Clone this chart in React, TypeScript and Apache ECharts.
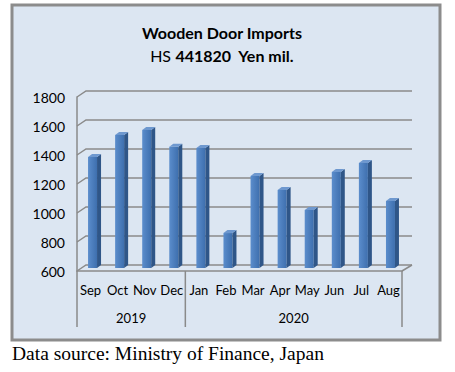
import React, { useEffect, useRef } from "react";
import * as echarts from "echarts";

const months = ["Sep", "Oct", "Nov", "Dec", "Jan", "Feb", "Mar", "Apr", "May", "Jun", "Jul", "Aug"];
const imports = [1365, 1517, 1552, 1437, 1428, 841, 1234, 1138, 1000, 1262, 1324, 1062];
const yTicks = [600, 800, 1000, 1200, 1400, 1600, 1800];
const yearLabels = ["2019", "2020"];
const yearStart = [0, 4];
const yearEnd = [3, 11];
const titleLine1 = "Wooden Door Imports";
const titleLine2a = "HS ";
const titleLine2b = "441820  Yen mil.";
const sourceText = "Data source: Ministry of Finance, Japan";

const GRID_COLOR = "#8a8a8a";
const FONT = "Lato";

export default function App() {
  const ref = useRef<HTMLDivElement>(null);
  useEffect(() => {
    const chart = echarts.init(ref.current!, null, { renderer: "svg" });
    const DX = 9;
    const DY = -6;
    chart.setOption({
      animation: false,
      grid: { left: 77, right: 53, top: 97, bottom: 101 },
      xAxis: {
        type: "category",
        data: months,
        axisLine: { show: true, lineStyle: { color: GRID_COLOR, width: 1.5 } },
        axisTick: { show: false },
        axisLabel: { interval: 0, margin: 12, color: "#000", fontFamily: FONT, fontSize: 13 },
      },
      yAxis: {
        type: "value",
        min: 600,
        max: 1800,
        interval: 200,
        axisLine: { show: true, lineStyle: { color: GRID_COLOR, width: 1.5 } },
        axisTick: { show: false },
        splitLine: { show: false },
        axisLabel: {
          margin: 12,
          color: "#000",
          fontFamily: FONT,
          fontSize: 14,
          formatter: (v: number) => String(v),
        },
      },
      graphic: [
        {
          type: "rect",
          z: -10,
          shape: { x: 12, y: 5, width: 428, height: 335 },
          style: { fill: "#dce6f2", stroke: "#8c8c8c", lineWidth: 3 },
        },
        {
          type: "text",
          x: 222,
          y: 32,
          style: {
            text: titleLine1,
            fontFamily: FONT,
            fontWeight: "bold",
            fontSize: 16,
            fill: "#000",
            align: "center",
            verticalAlign: "middle",
            textAlign: "center",
            textVerticalAlign: "middle",
          },
        },
        {
          type: "text",
          x: 222,
          y: 55,
          style: {
            text: "{n|" + titleLine2a + "}{b|" + titleLine2b + "}",
            rich: {
              n: { fontFamily: FONT, fontSize: 16, fontWeight: "normal", fill: "#000", color: "#000" },
              b: { fontFamily: FONT, fontSize: 16, fontWeight: "bold", fill: "#000", color: "#000" },
            },
            align: "center",
            verticalAlign: "middle",
            textAlign: "center",
            textVerticalAlign: "middle",
          },
        },
        {
          type: "text",
          x: 12,
          y: 353,
          style: {
            text: sourceText,
            fontFamily: "Liberation Serif",
            fontSize: 19.5,
            fill: "#000",
            align: "left",
            verticalAlign: "middle",
            textAlign: "left",
            textVerticalAlign: "middle",
          },
        },
      ],
      series: [
        {
          type: "custom",
          name: "grid",
          clip: false,
          silent: true,
          z: 1,
          data: yTicks.map((t) => [0, t]),
          renderItem: (params: any, api: any) => {
            const cs = params.coordSys;
            const y = api.coord([0, api.value(1)])[1];
            const x0 = cs.x;
            const x1 = cs.x + cs.width;
            const children: any[] = [
              {
                type: "polyline",
                shape: { points: [[x0, y], [x0 + DX, y + DY], [x1 + DX + 1, y + DY]] },
                style: { stroke: GRID_COLOR, lineWidth: 1.5, fill: "none" },
              },
            ];
            if (params.dataIndex === 0) {
              children.push({
                type: "line",
                shape: { x1: x1, y1: y, x2: x1 + DX + 1, y2: y + DY },
                style: { stroke: GRID_COLOR, lineWidth: 1.5 },
              });
            }
            return { type: "group", children };
          },
        },
        {
          type: "custom",
          name: "Imports",
          clip: false,
          z: 3,
          data: imports.map((v, i) => [i, v]),
          renderItem: (params: any, api: any) => {
            const idx = api.value(0);
            const v = api.value(1);
            const top = api.coord([idx, v]);
            const base = api.coord([idx, 600]);
            const w = 9;
            const d = 4;
            const dh = 3;
            const l = top[0] - 2.5;
            const r = l + w;
            const yTop = top[1] - 3;
            const yBase = base[1] - 3;
            return {
              type: "group",
              children: [
                {
                  type: "rect",
                  shape: { x: l, y: yTop, width: w, height: yBase - yTop },
                  style: {
                    fill: new echarts.graphic.LinearGradient(0, 0, 1, 0, [
                      { offset: 0, color: "#5b8dcc" },
                      { offset: 1, color: "#3e6fae" },
                    ]),
                  },
                },
                {
                  type: "polygon",
                  shape: { points: [[r, yTop], [r + d, yTop - dh], [r + d, yBase - dh], [r, yBase]] },
                  style: { fill: "#2f5688" },
                },
                {
                  type: "polygon",
                  shape: { points: [[l, yTop], [l + d, yTop - dh], [r + d, yTop - dh], [r, yTop]] },
                  style: { fill: "#6e98cf" },
                },
              ],
            };
          },
        },
        {
          type: "custom",
          name: "years",
          clip: false,
          silent: true,
          z: 3,
          data: yearStart.map((s, i) => [s, yearEnd[i]]),
          renderItem: (params: any, api: any) => {
            const s = api.value(0);
            const e = api.value(1);
            const band = api.size([1, 0])[0];
            const ps = api.coord([s, 600]);
            const pe = api.coord([e, 600]);
            const xs = ps[0] - band / 2;
            const xe = pe[0] + band / 2;
            const y0 = ps[1];
            const children: any[] = [
              {
                type: "line",
                shape: { x1: xs, y1: y0, x2: xs, y2: y0 + 56 },
                style: { stroke: GRID_COLOR, lineWidth: 1.5 },
              },
              {
                type: "text",
                style: {
                  text: yearLabels[params.dataIndex],
                  x: (xs + xe) / 2,
                  y: y0 + 47,
                  fontFamily: FONT,
                  fontSize: 13,
                  fill: "#000",
                  align: "center",
                  verticalAlign: "middle",
                  textAlign: "center",
                  textVerticalAlign: "middle",
                },
              },
            ];
            if (params.dataIndex === yearLabels.length - 1) {
              children.push({
                type: "line",
                shape: { x1: xe, y1: y0, x2: xe, y2: y0 + 56 },
                style: { stroke: GRID_COLOR, lineWidth: 1.5 },
              });
            }
            return { type: "group", children };
          },
        },
      ],
    });
    return () => chart.dispose();
  }, []);
  return (
    <div
      ref={ref}
      style={{ position: "absolute", left: 0, top: 0, width: 455, height: 372, background: "#fff" }}
    />
  );
}
